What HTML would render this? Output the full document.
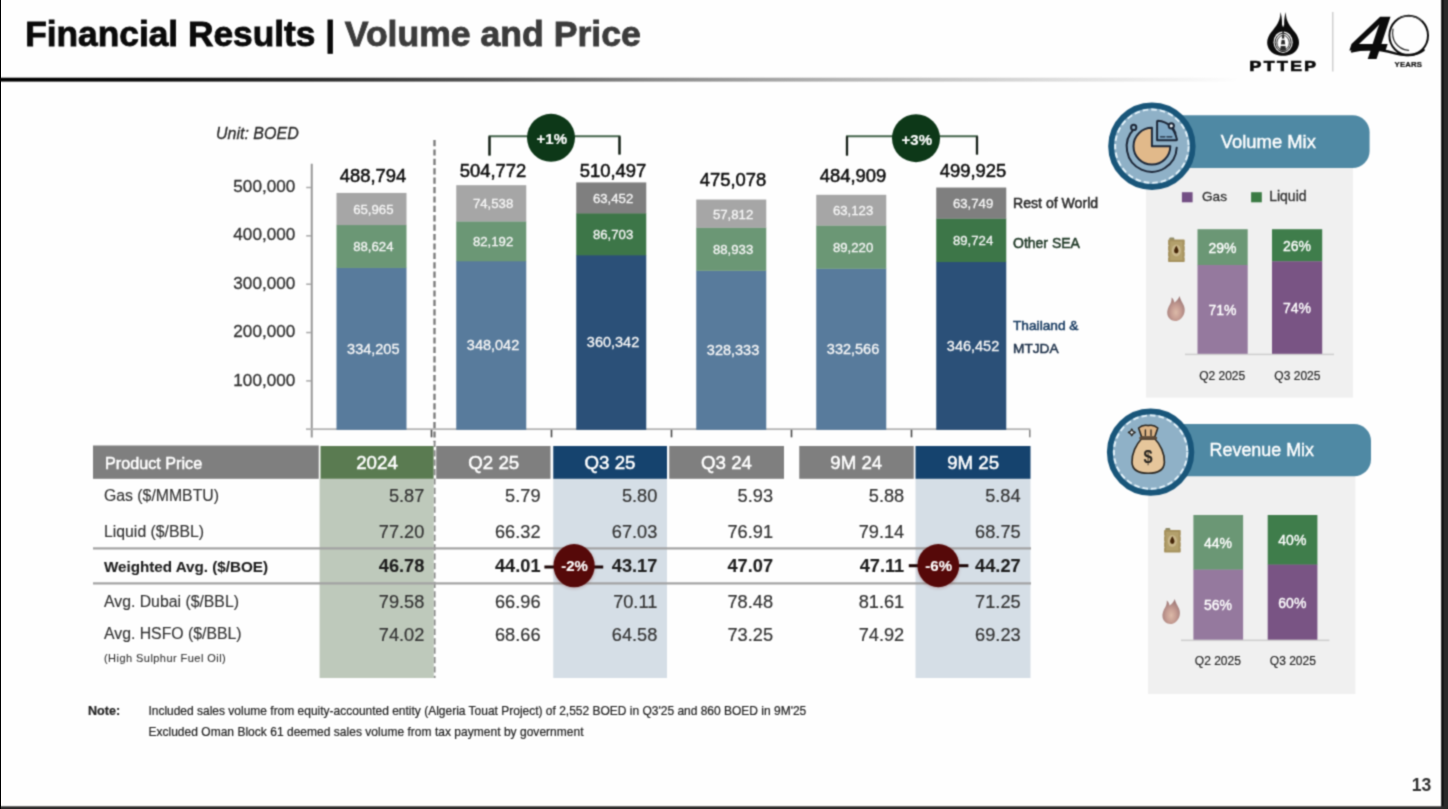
<!DOCTYPE html>
<html lang="en">
<head>
<meta charset="utf-8">
<title>Financial Results | Volume and Price</title>
<style>
html,body{margin:0;padding:0;background:#fff}
body{width:1448px;height:809px;overflow:hidden}
#slide{position:relative;width:1448px;height:809px;overflow:hidden;background:#fefefe;font-family:"Liberation Sans",sans-serif}
#soft{position:absolute;left:-20px;top:-20px;width:1488px;height:849px;background:#fefefe;filter:url(#soften)}
#edge{position:absolute;left:0;top:0;width:1px;height:809px;background:#000}
#page{position:absolute;left:20px;top:20px;width:1448px;height:809px}
#page svg{position:absolute;left:0;top:0;overflow:visible}
.t{position:absolute;white-space:nowrap;line-height:1;margin:0;padding:0}
</style>
</head>
<body>
<div id="slide"><div id="soft"><div id="page">
<svg width="1448" height="809" viewBox="0 0 1448 809">
<defs>
<linearGradient id="gline" gradientUnits="userSpaceOnUse" x1="0" y1="0" x2="1240" y2="0">
<stop offset="0" stop-color="#000"/><stop offset="0.12" stop-color="#0c0c0c"/><stop offset="0.25" stop-color="#2a2a2a"/><stop offset="0.39" stop-color="#555"/><stop offset="0.53" stop-color="#8a8a8a"/><stop offset="0.68" stop-color="#b5b5b5"/><stop offset="0.82" stop-color="#d6d6d6"/><stop offset="1" stop-color="#fefefe"/>
</linearGradient>
<filter id="soften" x="0" y="0" width="100%" height="100%" color-interpolation-filters="sRGB"><feConvolveMatrix order="3" kernelMatrix="0.0400 0.1200 0.0400 0.1200 0.3600 0.1200 0.0400 0.1200 0.0400" divisor="1" edgeMode="duplicate" preserveAlpha="true"/></filter>
<radialGradient id="gfl" cx="0.5" cy="0.66" r="0.62"><stop offset="0" stop-color="#dcbaa8"/><stop offset="0.45" stop-color="#c69d93"/><stop offset="1" stop-color="#9c7776"/></radialGradient>
<filter id="b2" x="-30%" y="-30%" width="160%" height="160%"><feGaussianBlur stdDeviation="1.4"/></filter>
</defs>
<rect x="1441.10" y="-20.00" width="26.90" height="849.00" fill="#2b2b2b" />
<rect x="1441.90" y="-20.00" width="1.40" height="826.30" fill="#050505" />
<rect x="-20.00" y="806.30" width="1488.00" height="22.70" fill="#2a2a2a" />
<rect x="-20" y="77.7" width="1260" height="3.9" fill="url(#gline)"/>
<rect x="310.75" y="163.75" width="2.00" height="273.75" fill="#999999" />
<rect x="306.00" y="428.25" width="724.50" height="1.80" fill="#b4b4b4" />
<rect x="306.20" y="380.15" width="4.80" height="1.50" fill="#a8a8a8" />
<rect x="306.20" y="331.80" width="4.80" height="1.50" fill="#a8a8a8" />
<rect x="306.20" y="283.45" width="4.80" height="1.50" fill="#a8a8a8" />
<rect x="306.20" y="235.10" width="4.80" height="1.50" fill="#a8a8a8" />
<rect x="306.20" y="186.75" width="4.80" height="1.50" fill="#a8a8a8" />
<rect x="430.70" y="429.85" width="1.60" height="7.45" fill="#4a4a4a" />
<rect x="550.70" y="429.85" width="1.60" height="7.45" fill="#4a4a4a" />
<rect x="670.70" y="429.85" width="1.60" height="7.45" fill="#4a4a4a" />
<rect x="790.70" y="429.85" width="1.60" height="7.45" fill="#4a4a4a" />
<rect x="910.70" y="429.85" width="1.60" height="7.45" fill="#4a4a4a" />
<rect x="1029.00" y="429.85" width="1.60" height="7.45" fill="#8a8a8a" />
<line x1="434.5" y1="140" x2="434.5" y2="442" stroke="#787878" stroke-width="2.3" stroke-dasharray="6.2 3.2"/>
<line x1="434.6" y1="442" x2="434.6" y2="678" stroke="#8a8a8a" stroke-width="1.9" stroke-dasharray="6.2 3.2" stroke-dashoffset="1.2"/>
<rect x="336.50" y="267.66" width="70.00" height="162.19" fill="#587b9c" />
<rect x="336.50" y="224.81" width="70.00" height="43.15" fill="#6b9775" />
<rect x="336.50" y="192.92" width="70.00" height="32.19" fill="#a6a6a6" />
<rect x="456.25" y="260.97" width="70.00" height="168.88" fill="#587b9c" />
<rect x="456.25" y="221.23" width="70.00" height="40.04" fill="#6b9775" />
<rect x="456.25" y="185.19" width="70.00" height="36.34" fill="#a6a6a6" />
<rect x="576.25" y="255.02" width="70.00" height="174.83" fill="#2b5078" />
<rect x="576.25" y="213.10" width="70.00" height="42.22" fill="#3d7648" />
<rect x="576.25" y="182.42" width="70.00" height="30.98" fill="#7f7f7f" />
<rect x="696.25" y="270.50" width="70.00" height="159.35" fill="#587b9c" />
<rect x="696.25" y="227.50" width="70.00" height="43.30" fill="#6b9775" />
<rect x="696.25" y="199.55" width="70.00" height="28.25" fill="#a6a6a6" />
<rect x="816.25" y="268.45" width="70.00" height="161.40" fill="#587b9c" />
<rect x="816.25" y="225.32" width="70.00" height="43.44" fill="#6b9775" />
<rect x="816.25" y="194.80" width="70.00" height="30.82" fill="#a6a6a6" />
<rect x="936.25" y="261.74" width="70.00" height="168.11" fill="#2b5078" />
<rect x="936.25" y="218.36" width="70.00" height="43.68" fill="#3d7648" />
<rect x="936.25" y="187.54" width="70.00" height="31.12" fill="#7f7f7f" />
<path d="M489.5 155.5V136.3H619.5V154.5" fill="none" stroke="#45664d" stroke-width="1.9"/>
<path d="M489.5 155.5V136.3" fill="none" stroke="#161f18" stroke-width="2.3"/>
<path d="M619.5 136.3V154.5" fill="none" stroke="#161f18" stroke-width="2.3"/>
<circle cx="551.0" cy="137.8" r="24" fill="#0d3818"/>
<path d="M847.0 155.5V136.3H977.0V154.5" fill="none" stroke="#45664d" stroke-width="1.9"/>
<path d="M847.0 155.5V136.3" fill="none" stroke="#161f18" stroke-width="2.3"/>
<path d="M977.0 136.3V154.5" fill="none" stroke="#161f18" stroke-width="2.3"/>
<circle cx="916.0" cy="138.2" r="24" fill="#0d3818"/>
<rect x="319.60" y="478.80" width="114.20" height="199.20" fill="#bec9bb" />
<rect x="553.25" y="478.80" width="113.75" height="199.20" fill="#d5dee6" />
<rect x="915.50" y="478.80" width="115.00" height="199.20" fill="#d5dee6" />
<rect x="93.00" y="445.50" width="225.75" height="33.30" fill="#7f7f7f" />
<rect x="320.50" y="446.00" width="113.10" height="32.80" fill="#5a7b51" />
<rect x="436.25" y="446.00" width="114.25" height="32.80" fill="#7f7f7f" />
<rect x="553.25" y="446.00" width="113.75" height="32.80" fill="#15436e" />
<rect x="669.25" y="446.00" width="114.75" height="32.80" fill="#7f7f7f" />
<rect x="799.25" y="446.00" width="114.50" height="32.80" fill="#7f7f7f" />
<rect x="915.50" y="446.00" width="115.00" height="32.80" fill="#15436e" />
<rect x="93.00" y="547.30" width="938.00" height="2.20" fill="#a2a2a2" />
<rect x="93.00" y="582.30" width="938.00" height="2.20" fill="#a2a2a2" />
<rect x="544.4" y="565.50" width="58.80000000000007" height="3" fill="#1c0707"/>
<ellipse cx="574.1" cy="566.7" rx="21.200000000000003" ry="22.200000000000003" fill="#7a3030" opacity="0.25" filter="url(#b2)"/>
<ellipse cx="574.1" cy="565.7" rx="20.6" ry="21.6" fill="#560909"/>
<rect x="908.8" y="564.20" width="59.60000000000002" height="3" fill="#1c0707"/>
<ellipse cx="938.3" cy="566.6" rx="21.5" ry="22.200000000000003" fill="#7a3030" opacity="0.25" filter="url(#b2)"/>
<ellipse cx="938.3" cy="565.6" rx="20.9" ry="21.6" fill="#560909"/>
<rect x="1146.00" y="168.00" width="207.00" height="229.60" fill="#f0f0f0" />
<path d="M1151.9 115.3H1352.6a17 17 0 0 1 17 17V151.1a17 17 0 0 1 -17 17H1151.9Z" fill="#4f89a4"/>
<circle cx="1151.9" cy="146.2" r="40.8" fill="#8fb1c7" stroke="#19567a" stroke-width="5.8"/>
<circle cx="1151.9" cy="146.2" r="36.7" fill="none" stroke="#e4f3fb" stroke-width="1.9" stroke-dasharray="5.6 3"/>
<rect x="1148.00" y="476.00" width="207.40" height="218.00" fill="#f0f0f0" />
<path d="M1150.6 423.9H1354.0a17 17 0 0 1 17 17V459.3a17 17 0 0 1 -17 17H1150.6Z" fill="#4f89a4"/>
<circle cx="1150.6" cy="452.1" r="40.8" fill="#8fb1c7" stroke="#19567a" stroke-width="5.8"/>
<circle cx="1150.6" cy="452.1" r="36.7" fill="none" stroke="#e4f3fb" stroke-width="1.9" stroke-dasharray="5.6 3"/>
<rect x="1185.00" y="353.60" width="149.00" height="1.60" fill="#cfcfcf" />
<rect x="1197.50" y="229.20" width="50.20" height="36.13" fill="#6b9775" />
<rect x="1197.50" y="265.03" width="50.20" height="88.77" fill="#95799e" />
<rect x="1272.00" y="229.20" width="50.20" height="32.40" fill="#3f7d4b" />
<rect x="1272.00" y="261.30" width="50.20" height="92.50" fill="#795484" />
<rect x="1181.00" y="639.50" width="148.40" height="1.60" fill="#cfcfcf" />
<rect x="1193.40" y="515.00" width="49.70" height="54.87" fill="#6b9775" />
<rect x="1193.40" y="569.57" width="49.70" height="70.13" fill="#95799e" />
<rect x="1267.70" y="515.00" width="49.70" height="49.88" fill="#3f7d4b" />
<rect x="1267.70" y="564.58" width="49.70" height="75.12" fill="#795484" />
<rect x="1181.90" y="192.20" width="10.70" height="10.10" fill="#734f84" />
<rect x="1251.10" y="192.20" width="10.70" height="10.10" fill="#3b7b44" />
<g transform="translate(1168.0 237.2)"><path d="M1.3 3V1.3Q1.3 0.2 2.5 0.2H5.2Q6.3 0.2 6.3 1.3V3Z" fill="#8f8a66"/><path d="M0.9 2.4H15.9Q16.7 2.4 16.7 3.2V7.2L16.2 8.2L16.7 9.2V13L16.2 14L16.7 15V18.8L16.2 19.8L16.7 20.8V24Q16.7 24.8 15.9 24.8H0.9Q0.1 24.8 0.1 24V20.8L0.6 19.8L0.1 18.8V15L0.6 14L0.1 13V9.2L0.6 8.2L0.1 7.2V3.2Q0.1 2.4 0.9 2.4Z" fill="#a5915d"/><rect x="2.2" y="4.2" width="12.4" height="18.8" fill="#b3a06c"/><ellipse cx="8.3" cy="13.4" rx="4.6" ry="6" fill="#cdbb92" opacity="0.8"/><path d="M8.3 8.6C9.6 10.8 10.5 12.4 10.5 13.8A2.2 2.4 0 0 1 6.1 13.8C6.1 12.4 7 10.8 8.3 8.6Z" fill="#452609"/></g>
<g transform="translate(1167.0 296.0)"><path d="M12.6 0C12.9 3.2 15.4 6 17 10C19 15.6 16.6 22.2 11 24.4C6.6 26 1.6 23.8 0.4 18.6C-0.4 14.6 1.4 11 3.2 8C4.2 6.2 4.8 4 4.6 1.6C6.2 3 7 4.6 7.4 6.4C9.6 5 11.6 2.8 12.6 0Z" fill="url(#gfl)"/></g>
<g transform="translate(1164.0 527.7)"><path d="M1.3 3V1.3Q1.3 0.2 2.5 0.2H5.2Q6.3 0.2 6.3 1.3V3Z" fill="#8f8a66"/><path d="M0.9 2.4H15.9Q16.7 2.4 16.7 3.2V7.2L16.2 8.2L16.7 9.2V13L16.2 14L16.7 15V18.8L16.2 19.8L16.7 20.8V24Q16.7 24.8 15.9 24.8H0.9Q0.1 24.8 0.1 24V20.8L0.6 19.8L0.1 18.8V15L0.6 14L0.1 13V9.2L0.6 8.2L0.1 7.2V3.2Q0.1 2.4 0.9 2.4Z" fill="#a5915d"/><rect x="2.2" y="4.2" width="12.4" height="18.8" fill="#b3a06c"/><ellipse cx="8.3" cy="13.4" rx="4.6" ry="6" fill="#cdbb92" opacity="0.8"/><path d="M8.3 8.6C9.6 10.8 10.5 12.4 10.5 13.8A2.2 2.4 0 0 1 6.1 13.8C6.1 12.4 7 10.8 8.3 8.6Z" fill="#452609"/></g>
<g transform="translate(1162.2 599.0)"><path d="M12.6 0C12.9 3.2 15.4 6 17 10C19 15.6 16.6 22.2 11 24.4C6.6 26 1.6 23.8 0.4 18.6C-0.4 14.6 1.4 11 3.2 8C4.2 6.2 4.8 4 4.6 1.6C6.2 3 7 4.6 7.4 6.4C9.6 5 11.6 2.8 12.6 0Z" fill="url(#gfl)"/></g>
<g transform="translate(1151.9 146.2)" fill="none" stroke="#1d2839" stroke-width="2" stroke-linecap="round" stroke-linejoin="round">
<path d="M0 -18.4A18.4 18.4 0 1 0 18.4 0H0Z" fill="#e1b98a"/>
<path d="M5.2 -6V-24.6Q5.2 -25.4 6 -25.4Q21 -24.2 25 -6.8Q25.2 -6 24.4 -6Z" fill="#7ea7c4"/>
<path d="M8.6 -9.4H13M15 -9.4H20" stroke-width="1.3"/>
<path d="M-17.6 -17.4A25 25 0 1 0 24.8 1.6"/>
<circle cx="-18.2" cy="-18.8" r="2.6" fill="#8fb1c7"/>
<circle cx="19.4" cy="-20.4" r="2.6" fill="#e9eef2"/>
<path d="M21 -18.2L23.6 -13"/>
</g>
<g transform="translate(1148.2 452.4)" stroke="#2a2620" stroke-width="1.6" stroke-linejoin="round" stroke-linecap="round">
<path d="M-6.4 -15L-9.6 -24.4Q-5.4 -28.2 0 -26.8Q5.4 -28.2 9.6 -24.4L6.4 -15Z" fill="#dcb486"/>
<path d="M-6.8 -13.4C-12 -8 -16.6 1.2 -16.2 10C-15.8 17.8 -9.4 20.9 0 20.9C9.4 20.9 15.8 17.8 16.2 10C16.6 1.2 12 -8 6.8 -13.4Z" fill="#e6c69b"/>
<path d="M-7.4 -14.4H7.4" stroke="#5e4b38" stroke-width="3.2"/>
<path d="M-2.8 -22.6V-17M2.8 -22.6V-17" fill="none" stroke-width="1.3"/>
<path d="M-16.4 -23.4L-15.2 -21.2L-13 -20L-15.2 -18.8L-16.4 -16.6L-17.6 -18.8L-19.8 -20L-17.6 -21.2Z" fill="#e9f2f7" stroke-width="1.3"/>
</g>
<g fill="#0b0b0b">
<path d="M1280.4 12C1280.6 21 1276 26.4 1271.4 32C1266.8 37.6 1265.6 44.4 1269.6 50C1272.8 54.4 1278 55.8 1283.1 55.8C1288.2 55.8 1293.4 54.4 1296.6 50C1300.6 44.4 1299.4 37.6 1294.8 32C1290.2 26.4 1285.6 21 1285.8 12C1284.6 16 1284 20 1284.2 24.4L1283.1 27.4L1282 24.4C1282.2 20 1281.6 16 1280.4 12Z"/>
<ellipse cx="1283.1" cy="42.2" rx="9.6" ry="10.8" fill="#fff"/>
<ellipse cx="1283.1" cy="42.4" rx="8" ry="9.2" fill="none" stroke="#0b0b0b" stroke-width="1"/>
<ellipse cx="1283.1" cy="42.8" rx="6.2" ry="7.4" fill="none" stroke="#0b0b0b" stroke-width="0.9"/>
<path d="M1283.1 30.6L1286.2 50.4H1280Z" fill="#2b2b2b"/>
<path d="M1283.1 27V33" stroke="#0b0b0b" stroke-width="1.2"/>
<rect x="1279.4" y="44.4" width="7.4" height="1.6" fill="#fff"/>
<rect x="1281" y="38.6" width="4.2" height="1.3" fill="#fff"/>
</g>
<rect x="1332.00" y="12.00" width="1.50" height="59.50" fill="#cfcfcf" />
<g fill="none" stroke="#0b0b0b" stroke-linecap="round" role="img" aria-label="40 years">
<title>40 years</title>
<ellipse cx="1408.7" cy="35.5" rx="19.3" ry="19.8" stroke-width="2"/>
<path d="M1393 29C1391.2 39 1396 49 1408.6 50.4" stroke-width="1.2" stroke="#2a2a2a"/>
<path d="M1399 17.6C1406 14.8 1416 15.8 1421.6 20.6" stroke-width="1" stroke="#555"/>
<path d="M1352 51.4C1366 47.6 1382 49.6 1395 53.4C1404 56 1416 56 1423.6 50" stroke-width="2.4"/>
</g>
<text x="0" y="0" font-family="'Liberation Sans',sans-serif" font-weight="700" font-size="61.5" fill="#0b0b0b" transform="matrix(1.1 0 -0.33 1 1345.6 59.2)">4</text>
</svg>
<span class="t" style="top:16.00px;font-size:35.3px;color:#0a0a0a;font-weight:700;-webkit-text-stroke:0.85px #0a0a0a;left:25.20px">Financial Results |</span>
<span class="t" style="top:17.00px;font-size:35.6px;color:#3c3c3c;font-weight:700;-webkit-text-stroke:0.85px #3c3c3c;left:344.80px">Volume and Price</span>
<span class="t" style="top:372.00px;font-size:16.4px;color:#303030;-webkit-text-stroke:0.3px #303030;right:1152.40px;transform:scaleX(1.045);transform-origin:100% 50%">100,000</span>
<span class="t" style="top:323.00px;font-size:16.4px;color:#303030;-webkit-text-stroke:0.3px #303030;right:1152.40px;transform:scaleX(1.045);transform-origin:100% 50%">200,000</span>
<span class="t" style="top:275.00px;font-size:16.4px;color:#303030;-webkit-text-stroke:0.3px #303030;right:1152.40px;transform:scaleX(1.045);transform-origin:100% 50%">300,000</span>
<span class="t" style="top:226.00px;font-size:16.4px;color:#303030;-webkit-text-stroke:0.3px #303030;right:1152.40px;transform:scaleX(1.045);transform-origin:100% 50%">400,000</span>
<span class="t" style="top:178.00px;font-size:16.4px;color:#303030;-webkit-text-stroke:0.3px #303030;right:1152.40px;transform:scaleX(1.045);transform-origin:100% 50%">500,000</span>
<span class="t" style="top:126.00px;font-size:16px;color:#2b2b2b;font-style:italic;-webkit-text-stroke:0.3px #2b2b2b;left:216.00px">Unit: BOED</span>
<span class="t" style="top:342.00px;font-size:14.5px;color:#f6f6f6;-webkit-text-stroke:0.3px #f6f6f6;left:373.30px;transform:translateX(-50%);transform-origin:50% 50%">334,205</span>
<span class="t" style="top:240.00px;font-size:13.2px;color:#f6f6f6;-webkit-text-stroke:0.3px #f6f6f6;left:373.30px;transform:translateX(-50%);transform-origin:50% 50%">88,624</span>
<span class="t" style="top:203.00px;font-size:13.2px;color:#f6f6f6;-webkit-text-stroke:0.3px #f6f6f6;left:373.30px;transform:translateX(-50%);transform-origin:50% 50%">65,965</span>
<span class="t" style="top:168.00px;font-size:17.7px;color:#0e0e0e;-webkit-text-stroke:0.5px #0e0e0e;left:373.00px;transform:translateX(-50%) scaleX(1.04);transform-origin:50% 50%">488,794</span>
<span class="t" style="top:338.00px;font-size:14.5px;color:#f6f6f6;-webkit-text-stroke:0.3px #f6f6f6;left:493.05px;transform:translateX(-50%);transform-origin:50% 50%">348,042</span>
<span class="t" style="top:235.00px;font-size:13.2px;color:#f6f6f6;-webkit-text-stroke:0.3px #f6f6f6;left:493.05px;transform:translateX(-50%);transform-origin:50% 50%">82,192</span>
<span class="t" style="top:197.00px;font-size:13.2px;color:#f6f6f6;-webkit-text-stroke:0.3px #f6f6f6;left:493.05px;transform:translateX(-50%);transform-origin:50% 50%">74,538</span>
<span class="t" style="top:163.00px;font-size:17.7px;color:#0e0e0e;-webkit-text-stroke:0.5px #0e0e0e;left:492.75px;transform:translateX(-50%) scaleX(1.04);transform-origin:50% 50%">504,772</span>
<span class="t" style="top:335.00px;font-size:14.5px;color:#f6f6f6;-webkit-text-stroke:0.3px #f6f6f6;left:613.05px;transform:translateX(-50%);transform-origin:50% 50%">360,342</span>
<span class="t" style="top:228.00px;font-size:13.2px;color:#f6f6f6;-webkit-text-stroke:0.3px #f6f6f6;left:613.05px;transform:translateX(-50%);transform-origin:50% 50%">86,703</span>
<span class="t" style="top:192.00px;font-size:13.2px;color:#f6f6f6;-webkit-text-stroke:0.3px #f6f6f6;left:613.05px;transform:translateX(-50%);transform-origin:50% 50%">63,452</span>
<span class="t" style="top:163.00px;font-size:17.7px;color:#0e0e0e;-webkit-text-stroke:0.5px #0e0e0e;left:612.75px;transform:translateX(-50%) scaleX(1.04);transform-origin:50% 50%">510,497</span>
<span class="t" style="top:343.00px;font-size:14.5px;color:#f6f6f6;-webkit-text-stroke:0.3px #f6f6f6;left:733.05px;transform:translateX(-50%);transform-origin:50% 50%">328,333</span>
<span class="t" style="top:243.00px;font-size:13.2px;color:#f6f6f6;-webkit-text-stroke:0.3px #f6f6f6;left:733.05px;transform:translateX(-50%);transform-origin:50% 50%">88,933</span>
<span class="t" style="top:208.00px;font-size:13.2px;color:#f6f6f6;-webkit-text-stroke:0.3px #f6f6f6;left:733.05px;transform:translateX(-50%);transform-origin:50% 50%">57,812</span>
<span class="t" style="top:172.00px;font-size:17.7px;color:#0e0e0e;-webkit-text-stroke:0.5px #0e0e0e;left:732.75px;transform:translateX(-50%) scaleX(1.04);transform-origin:50% 50%">475,078</span>
<span class="t" style="top:342.00px;font-size:14.5px;color:#f6f6f6;-webkit-text-stroke:0.3px #f6f6f6;left:853.05px;transform:translateX(-50%);transform-origin:50% 50%">332,566</span>
<span class="t" style="top:241.00px;font-size:13.2px;color:#f6f6f6;-webkit-text-stroke:0.3px #f6f6f6;left:853.05px;transform:translateX(-50%);transform-origin:50% 50%">89,220</span>
<span class="t" style="top:204.00px;font-size:13.2px;color:#f6f6f6;-webkit-text-stroke:0.3px #f6f6f6;left:853.05px;transform:translateX(-50%);transform-origin:50% 50%">63,123</span>
<span class="t" style="top:168.00px;font-size:17.7px;color:#0e0e0e;-webkit-text-stroke:0.5px #0e0e0e;left:852.75px;transform:translateX(-50%) scaleX(1.04);transform-origin:50% 50%">484,909</span>
<span class="t" style="top:339.00px;font-size:14.5px;color:#f6f6f6;-webkit-text-stroke:0.3px #f6f6f6;left:973.05px;transform:translateX(-50%);transform-origin:50% 50%">346,452</span>
<span class="t" style="top:234.00px;font-size:13.2px;color:#f6f6f6;-webkit-text-stroke:0.3px #f6f6f6;left:973.05px;transform:translateX(-50%);transform-origin:50% 50%">89,724</span>
<span class="t" style="top:197.00px;font-size:13.2px;color:#f6f6f6;-webkit-text-stroke:0.3px #f6f6f6;left:973.05px;transform:translateX(-50%);transform-origin:50% 50%">63,749</span>
<span class="t" style="top:163.00px;font-size:17.7px;color:#0e0e0e;-webkit-text-stroke:0.5px #0e0e0e;left:972.75px;transform:translateX(-50%) scaleX(1.04);transform-origin:50% 50%">499,925</span>
<span class="t" style="top:131.00px;font-size:15.0px;color:#fff;font-weight:700;-webkit-text-stroke:0.2px #fff;left:551.80px;transform:translateX(-50%);transform-origin:50% 50%">+1%</span>
<span class="t" style="top:132.00px;font-size:15.0px;color:#fff;font-weight:700;-webkit-text-stroke:0.2px #fff;left:916.80px;transform:translateX(-50%);transform-origin:50% 50%">+3%</span>
<span class="t" style="top:196.00px;font-size:14.1px;color:#2c2c2c;-webkit-text-stroke:0.5px #2c2c2c;left:1013.00px">Rest of World</span>
<span class="t" style="top:236.00px;font-size:14.0px;color:#1f3826;-webkit-text-stroke:0.5px #1f3826;left:1013.00px">Other SEA</span>
<span class="t" style="top:319.00px;font-size:13.7px;color:#193c62;-webkit-text-stroke:0.5px #193c62;left:1013.00px">Thailand &amp;</span>
<span class="t" style="top:342.00px;font-size:13.7px;color:#1b2f48;-webkit-text-stroke:0.5px #1b2f48;left:1013.00px">MTJDA</span>
<span class="t" style="top:455.00px;font-size:16.2px;color:#fff;-webkit-text-stroke:0.5px #fff;left:105.00px">Product Price</span>
<span class="t" style="top:454.00px;font-size:18.7px;color:#fff;-webkit-text-stroke:0.5px #fff;left:377.00px;transform:translateX(-50%);transform-origin:50% 50%">2024</span>
<span class="t" style="top:454.00px;font-size:18.7px;color:#fff;-webkit-text-stroke:0.5px #fff;left:493.80px;transform:translateX(-50%);transform-origin:50% 50%">Q2 25</span>
<span class="t" style="top:454.00px;font-size:18.7px;color:#fff;-webkit-text-stroke:0.5px #fff;left:610.00px;transform:translateX(-50%);transform-origin:50% 50%">Q3 25</span>
<span class="t" style="top:454.00px;font-size:18.7px;color:#fff;-webkit-text-stroke:0.5px #fff;left:726.50px;transform:translateX(-50%);transform-origin:50% 50%">Q3 24</span>
<span class="t" style="top:454.00px;font-size:18.7px;color:#fff;-webkit-text-stroke:0.5px #fff;left:856.30px;transform:translateX(-50%);transform-origin:50% 50%">9M 24</span>
<span class="t" style="top:454.00px;font-size:18.7px;color:#fff;-webkit-text-stroke:0.5px #fff;left:973.20px;transform:translateX(-50%);transform-origin:50% 50%">9M 25</span>
<span class="t" style="top:488.00px;font-size:15.8px;color:#343434;-webkit-text-stroke:0.15px #343434;left:104.00px">Gas ($/MMBTU)</span>
<span class="t" style="top:487.00px;font-size:18.2px;color:#343434;-webkit-text-stroke:0.2px #343434;right:1023.70px">5.87</span>
<span class="t" style="top:487.00px;font-size:18.2px;color:#343434;-webkit-text-stroke:0.2px #343434;right:907.50px">5.79</span>
<span class="t" style="top:487.00px;font-size:18.2px;color:#343434;-webkit-text-stroke:0.2px #343434;right:790.70px">5.80</span>
<span class="t" style="top:487.00px;font-size:18.2px;color:#343434;-webkit-text-stroke:0.2px #343434;right:675.00px">5.93</span>
<span class="t" style="top:487.00px;font-size:18.2px;color:#343434;-webkit-text-stroke:0.2px #343434;right:543.80px">5.88</span>
<span class="t" style="top:487.00px;font-size:18.2px;color:#343434;-webkit-text-stroke:0.2px #343434;right:427.40px">5.84</span>
<span class="t" style="top:524.00px;font-size:15.8px;color:#343434;-webkit-text-stroke:0.15px #343434;left:104.00px">Liquid ($/BBL)</span>
<span class="t" style="top:523.00px;font-size:18.2px;color:#343434;-webkit-text-stroke:0.2px #343434;right:1023.70px">77.20</span>
<span class="t" style="top:523.00px;font-size:18.2px;color:#343434;-webkit-text-stroke:0.2px #343434;right:907.50px">66.32</span>
<span class="t" style="top:523.00px;font-size:18.2px;color:#343434;-webkit-text-stroke:0.2px #343434;right:790.70px">67.03</span>
<span class="t" style="top:523.00px;font-size:18.2px;color:#343434;-webkit-text-stroke:0.2px #343434;right:675.00px">76.91</span>
<span class="t" style="top:523.00px;font-size:18.2px;color:#343434;-webkit-text-stroke:0.2px #343434;right:543.80px">79.14</span>
<span class="t" style="top:523.00px;font-size:18.2px;color:#343434;-webkit-text-stroke:0.2px #343434;right:427.40px">68.75</span>
<span class="t" style="top:559.00px;font-size:15.2px;color:#1e1e1e;font-weight:700;-webkit-text-stroke:0.1px #1e1e1e;left:104.00px">Weighted Avg. ($/BOE)</span>
<span class="t" style="top:557.00px;font-size:18.2px;color:#1e1e1e;font-weight:700;-webkit-text-stroke:0.1px #1e1e1e;right:1023.70px">46.78</span>
<span class="t" style="top:557.00px;font-size:18.2px;color:#1e1e1e;font-weight:700;-webkit-text-stroke:0.1px #1e1e1e;right:907.50px">44.01</span>
<span class="t" style="top:557.00px;font-size:18.2px;color:#1e1e1e;font-weight:700;-webkit-text-stroke:0.1px #1e1e1e;right:790.70px">43.17</span>
<span class="t" style="top:557.00px;font-size:18.2px;color:#1e1e1e;font-weight:700;-webkit-text-stroke:0.1px #1e1e1e;right:675.00px">47.07</span>
<span class="t" style="top:557.00px;font-size:18.2px;color:#1e1e1e;font-weight:700;-webkit-text-stroke:0.1px #1e1e1e;right:543.80px">47.11</span>
<span class="t" style="top:557.00px;font-size:18.2px;color:#1e1e1e;font-weight:700;-webkit-text-stroke:0.1px #1e1e1e;right:427.40px">44.27</span>
<span class="t" style="top:594.00px;font-size:15.8px;color:#343434;-webkit-text-stroke:0.15px #343434;left:104.00px">Avg. Dubai ($/BBL)</span>
<span class="t" style="top:593.00px;font-size:18.2px;color:#343434;-webkit-text-stroke:0.2px #343434;right:1023.70px">79.58</span>
<span class="t" style="top:593.00px;font-size:18.2px;color:#343434;-webkit-text-stroke:0.2px #343434;right:907.50px">66.96</span>
<span class="t" style="top:593.00px;font-size:18.2px;color:#343434;-webkit-text-stroke:0.2px #343434;right:790.70px">70.11</span>
<span class="t" style="top:593.00px;font-size:18.2px;color:#343434;-webkit-text-stroke:0.2px #343434;right:675.00px">78.48</span>
<span class="t" style="top:593.00px;font-size:18.2px;color:#343434;-webkit-text-stroke:0.2px #343434;right:543.80px">81.61</span>
<span class="t" style="top:593.00px;font-size:18.2px;color:#343434;-webkit-text-stroke:0.2px #343434;right:427.40px">71.25</span>
<span class="t" style="top:626.00px;font-size:15.8px;color:#343434;-webkit-text-stroke:0.15px #343434;left:104.00px">Avg. HSFO ($/BBL)</span>
<span class="t" style="top:626.00px;font-size:18.2px;color:#343434;-webkit-text-stroke:0.2px #343434;right:1023.70px">74.02</span>
<span class="t" style="top:626.00px;font-size:18.2px;color:#343434;-webkit-text-stroke:0.2px #343434;right:907.50px">68.66</span>
<span class="t" style="top:626.00px;font-size:18.2px;color:#343434;-webkit-text-stroke:0.2px #343434;right:790.70px">64.58</span>
<span class="t" style="top:626.00px;font-size:18.2px;color:#343434;-webkit-text-stroke:0.2px #343434;right:675.00px">73.25</span>
<span class="t" style="top:626.00px;font-size:18.2px;color:#343434;-webkit-text-stroke:0.2px #343434;right:543.80px">74.92</span>
<span class="t" style="top:626.00px;font-size:18.2px;color:#343434;-webkit-text-stroke:0.2px #343434;right:427.40px">69.23</span>
<span class="t" style="top:653.00px;font-size:11.0px;color:#333;letter-spacing:0.45px;-webkit-text-stroke:0.1px #333;left:104.00px">(High Sulphur Fuel Oil)</span>
<span class="t" style="top:558.00px;font-size:15.0px;color:#fff;font-weight:700;-webkit-text-stroke:0.15px #fff;left:574.50px;transform:translateX(-50%);transform-origin:50% 50%">-2%</span>
<span class="t" style="top:558.00px;font-size:15.0px;color:#fff;font-weight:700;-webkit-text-stroke:0.15px #fff;left:938.70px;transform:translateX(-50%);transform-origin:50% 50%">-6%</span>
<span class="t" style="top:705.00px;font-size:12.6px;color:#222;font-weight:700;-webkit-text-stroke:0.2px #222;left:88.00px">Note:</span>
<span class="t" style="top:705.00px;font-size:11.99px;color:#222;-webkit-text-stroke:0.2px #222;left:148.40px">Included sales volume from equity-accounted entity (Algeria Touat Project) of 2,552 BOED in Q3'25 and 860 BOED in 9M'25</span>
<span class="t" style="top:726.00px;font-size:11.99px;color:#222;letter-spacing:0.03px;-webkit-text-stroke:0.2px #222;left:148.40px">Excluded Oman Block 61 deemed sales volume from tax payment by government</span>
<span class="t" style="top:777.00px;font-size:17.6px;color:#303030;font-weight:700;right:16.60px">13</span>
<span class="t" style="top:133.00px;font-size:18.4px;color:#fff;-webkit-text-stroke:0.4px #fff;left:1220.80px">Volume Mix</span>
<span class="t" style="top:442.00px;font-size:17.9px;color:#fff;-webkit-text-stroke:0.4px #fff;left:1209.60px">Revenue Mix</span>
<span class="t" style="top:241.00px;font-size:14.0px;color:#fff;-webkit-text-stroke:0.35px #fff;left:1222.40px;transform:translateX(-50%);transform-origin:50% 50%">29%</span>
<span class="t" style="top:303.00px;font-size:14.0px;color:#fff;-webkit-text-stroke:0.35px #fff;left:1222.40px;transform:translateX(-50%);transform-origin:50% 50%">71%</span>
<span class="t" style="top:239.00px;font-size:14.0px;color:#fff;-webkit-text-stroke:0.35px #fff;left:1296.90px;transform:translateX(-50%);transform-origin:50% 50%">26%</span>
<span class="t" style="top:301.00px;font-size:14.0px;color:#fff;-webkit-text-stroke:0.35px #fff;left:1296.90px;transform:translateX(-50%);transform-origin:50% 50%">74%</span>
<span class="t" style="top:370.00px;font-size:12.0px;color:#2a2a2a;-webkit-text-stroke:0.2px #2a2a2a;left:1222.20px;transform:translateX(-50%);transform-origin:50% 50%">Q2 2025</span>
<span class="t" style="top:370.00px;font-size:12.0px;color:#2a2a2a;-webkit-text-stroke:0.2px #2a2a2a;left:1297.40px;transform:translateX(-50%);transform-origin:50% 50%">Q3 2025</span>
<span class="t" style="top:536.00px;font-size:14.0px;color:#fff;-webkit-text-stroke:0.35px #fff;left:1218.05px;transform:translateX(-50%);transform-origin:50% 50%">44%</span>
<span class="t" style="top:598.00px;font-size:14.0px;color:#fff;-webkit-text-stroke:0.35px #fff;left:1218.05px;transform:translateX(-50%);transform-origin:50% 50%">56%</span>
<span class="t" style="top:533.00px;font-size:14.0px;color:#fff;-webkit-text-stroke:0.35px #fff;left:1292.35px;transform:translateX(-50%);transform-origin:50% 50%">40%</span>
<span class="t" style="top:596.00px;font-size:14.0px;color:#fff;-webkit-text-stroke:0.35px #fff;left:1292.35px;transform:translateX(-50%);transform-origin:50% 50%">60%</span>
<span class="t" style="top:655.00px;font-size:12.0px;color:#2a2a2a;-webkit-text-stroke:0.2px #2a2a2a;left:1217.85px;transform:translateX(-50%);transform-origin:50% 50%">Q2 2025</span>
<span class="t" style="top:655.00px;font-size:12.0px;color:#2a2a2a;-webkit-text-stroke:0.2px #2a2a2a;left:1292.85px;transform:translateX(-50%);transform-origin:50% 50%">Q3 2025</span>
<span class="t" style="top:190.00px;font-size:13.6px;color:#303030;-webkit-text-stroke:0.3px #303030;left:1202.00px">Gas</span>
<span class="t" style="top:189.00px;font-size:14.0px;color:#303030;-webkit-text-stroke:0.3px #303030;left:1269.20px">Liquid</span>
<span class="t" style="top:447.00px;font-size:19px;color:#2a2620;font-weight:700;left:1148.20px;transform:translateX(-50%) scaleX(0.86);transform-origin:50% 50%">$</span>
<span class="t" style="top:60.00px;font-size:13.8px;color:#0b0b0b;font-weight:700;letter-spacing:2.0px;-webkit-text-stroke:0.7px #0b0b0b;left:1284.10px;transform:translateX(-50%) scaleX(1.27);transform-origin:50% 50%">PTTEP</span>
<span class="t" style="top:61.00px;font-size:7.8px;color:#0b0b0b;font-weight:700;letter-spacing:0.15px;-webkit-text-stroke:0.2px #0b0b0b;left:1408.40px;transform:translateX(-50%);transform-origin:50% 50%">YEARS</span>
</div></div>
<div id="edge"></div>
</div>
</body>
</html>
